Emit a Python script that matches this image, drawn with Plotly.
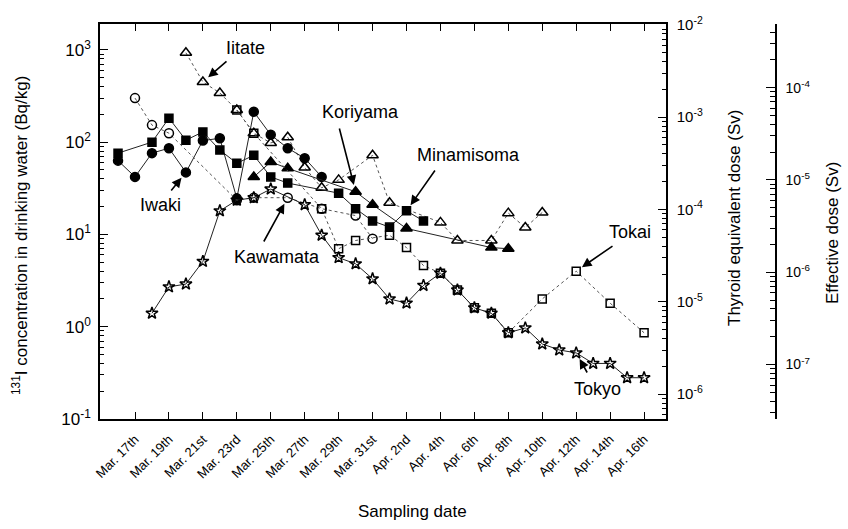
import math
import datetime as _dt
import plotly.graph_objects as go

# ---------------- data ----------------
iitate_dates = ["2011-03-20", "2011-03-21", "2011-03-22", "2011-03-23", "2011-03-24", "2011-03-25",
                "2011-03-26", "2011-03-27", "2011-03-28", "2011-03-29", "2011-03-31", "2011-04-01",
                "2011-04-04", "2011-04-05", "2011-04-07", "2011-04-08", "2011-04-09", "2011-04-10"]
iitate_vals = [930, 449, 341, 223, 125, 98, 113, 53, 32, 39, 72, 22, 13.5, 8.6, 8.6, 17, 11.9, 17.3]

iwaki_dates = ["2011-03-16", "2011-03-17", "2011-03-18", "2011-03-19", "2011-03-20", "2011-03-21",
               "2011-03-22", "2011-03-23", "2011-03-24", "2011-03-25", "2011-03-26", "2011-03-27",
               "2011-03-28"]
iwaki_vals = [63, 42, 76, 86, 47, 104, 110, 24.6, 213, 120, 86, 67, 42]

koriyama_dates = ["2011-03-24", "2011-03-25", "2011-03-26", "2011-03-30", "2011-03-31",
                  "2011-04-02", "2011-04-07", "2011-04-08"]
koriyama_vals = [42, 61, 52, 29, 21, 11.6, 7.2, 7.0]

minamisoma_dates = ["2011-03-16", "2011-03-18", "2011-03-19", "2011-03-20", "2011-03-21", "2011-03-22",
                    "2011-03-23", "2011-03-24", "2011-03-25", "2011-03-26", "2011-03-29", "2011-03-30",
                    "2011-03-31", "2011-04-01", "2011-04-02", "2011-04-03"]
minamisoma_vals = [76, 100, 182, 105, 129, 82, 59, 72, 42, 36, 28, 19, 14, 12, 18, 14]

kawamata_dates = ["2011-03-17", "2011-03-18", "2011-03-19", "2011-03-23", "2011-03-24", "2011-03-26",
                  "2011-03-28", "2011-03-30", "2011-03-31"]
kawamata_vals = [300, 153, 125, 23.5, 25, 25, 19, 16, 9]

tokai_dates = ["2011-03-23", "2011-03-24", "2011-03-28", "2011-03-29", "2011-03-30", "2011-04-01",
               "2011-04-02", "2011-04-03", "2011-04-04", "2011-04-05", "2011-04-06", "2011-04-07",
               "2011-04-08", "2011-04-10", "2011-04-12", "2011-04-14", "2011-04-16"]
tokai_vals = [223, 125, 19, 7.0, 8.6, 9.8, 7.2, 4.6, 3.8, 2.5, 1.6, 1.4, 0.86, 2.0, 4.0, 1.8, 0.86]

tokyo_dates = ["2011-03-18", "2011-03-19", "2011-03-20", "2011-03-21", "2011-03-22", "2011-03-23",
               "2011-03-24", "2011-03-25", "2011-03-27", "2011-03-28", "2011-03-29", "2011-03-30",
               "2011-03-31", "2011-04-01", "2011-04-02", "2011-04-03", "2011-04-04", "2011-04-05",
               "2011-04-06", "2011-04-07", "2011-04-08", "2011-04-09", "2011-04-10", "2011-04-11",
               "2011-04-12", "2011-04-13", "2011-04-14", "2011-04-15", "2011-04-16"]
tokyo_vals = [1.4, 2.7, 2.9, 5.1, 18, 23.5, 25, 31, 21, 9.8, 5.6, 4.8, 3.3, 2.0, 1.8, 2.8, 3.8, 2.5,
              1.6, 1.4, 0.86, 0.97, 0.65, 0.56, 0.52, 0.40, 0.40, 0.28, 0.28]

tick_dates = ["2011-03-17", "2011-03-19", "2011-03-21", "2011-03-23", "2011-03-25", "2011-03-27",
              "2011-03-29", "2011-03-31", "2011-04-02", "2011-04-04", "2011-04-06", "2011-04-08",
              "2011-04-10", "2011-04-12", "2011-04-14", "2011-04-16"]
tick_labels = ["Mar. 17th", "Mar. 19th", "Mar. 21st", "Mar. 23rd", "Mar. 25th", "Mar. 27th",
               "Mar. 29th", "Mar. 31st", "Apr. 2nd", "Apr. 4th", "Apr. 6th", "Apr. 8th",
               "Apr. 10th", "Apr. 12th", "Apr. 14th", "Apr. 16th"]

conc_exps = [-1, 0, 1, 2, 3]
thyroid_exps = [-6, -5, -4, -3, -2]
effective_exps = [-7, -6, -5, -4]

# ---------------- figure ----------------
W, H = 848, 529
ML, MR, MT, MB = 100, 40, 24, 110
PW = W - ML - MR
PH = H - MT - MB
FONT = "Liberation Sans, Arial, sans-serif"
X_START = "2011-03-14 22:30"
X_END = "2011-04-17 07:00"
PLOT_W = 566


def px(x, y):
    return (x - ML) / PW, (H - MB - y) / PH


fig = go.Figure()

series = [
    ("Iitate", iitate_dates, iitate_vals, "triangle-up-open", "dot", 10),
    ("Iwaki", iwaki_dates, iwaki_vals, "circle", "solid", 9),
    ("Koriyama", koriyama_dates, koriyama_vals, "triangle-up", "solid", 10),
    ("Minamisoma", minamisoma_dates, minamisoma_vals, "square", "solid", 8),
    ("Kawamata", kawamata_dates, kawamata_vals, "circle-open", "dot", 9),
    ("Tokai", tokai_dates, tokai_vals, "square-open", "dot", 8),
    ("Tokyo", tokyo_dates, tokyo_vals, "star-open", "solid", 9),
]
for name, d, v, sym, dash, size in series:
    fig.add_trace(go.Scatter(
        x=d, y=v, name=name, mode="lines+markers",
        line=dict(color="#222222" if dash == "solid" else "#555555", width=1, dash=dash),
        marker=dict(symbol=sym, size=size, color="black",
                    line=dict(color="black", width=1.5)),
        showlegend=False, cliponaxis=False,
    ))

# dummy traces so the secondary axes are drawn
fig.add_trace(go.Scatter(x=[None], y=[None], yaxis="y2", showlegend=False, hoverinfo="skip"))
fig.add_trace(go.Scatter(x=[None], y=[None], xaxis="x2", yaxis="y3", showlegend=False,
                         hoverinfo="skip"))


def minor_vals(lo, hi):
    out = []
    for e in range(lo, hi + 1):
        for m in range(2, 10):
            out.append(m * 10 ** e)
    return out


def sup_lbl(e):
    return "10<sup>%s</sup>" % (str(e) if e >= 0 else "-" + str(-e))


axis_common = dict(showline=True, linecolor="black", linewidth=1.5, ticks="inside",
                   tickcolor="black", tickwidth=1.2, showgrid=False, zeroline=False,
                   automargin=False)

main_range = [-1, 3.28]
thy_off = -5.27
eff_off = -6.59
eff_pos = (775 - ML) / PW

fig.update_layout(
    template="none",
    width=W, height=H, plot_bgcolor="rgba(0,0,0,0)", paper_bgcolor="white",
    margin=dict(l=ML, r=MR, t=MT, b=MB, pad=0),
    font=dict(family=FONT, color="black"),
    showlegend=False,
    xaxis=dict(**axis_common, domain=[0, PLOT_W / PW], type="date",
               range=[X_START, X_END],
               tickmode="array", tickvals=tick_dates, ticktext=tick_labels,
               tickangle=-45, ticklen=7, mirror="ticks", ticklabelstandoff=6,
               tickfont=dict(size=13, family=FONT)),
    xaxis2=dict(domain=[eff_pos - 0.03, eff_pos], range=[0, 1], anchor="y3",
                showline=False, showticklabels=False, ticks="", showgrid=False,
                zeroline=False, automargin=False),
    yaxis=dict(**axis_common, type="log", range=main_range,
               tickmode="array", tickvals=[10 ** e for e in conc_exps],
               ticktext=[sup_lbl(e) for e in conc_exps], ticklen=8, ticklabelstandoff=4,
               tickfont=dict(size=17, family=FONT),
               minor=dict(ticks="inside", ticklen=4, tickcolor="black",
                          tickmode="array", tickvals=minor_vals(-1, 3))),
    yaxis2=dict(**axis_common, type="log", overlaying="y", side="right", anchor="x",
                range=[main_range[0] + thy_off, main_range[1] + thy_off],
                tickmode="array", tickvals=[10 ** e for e in thyroid_exps],
                ticktext=[sup_lbl(e) for e in thyroid_exps], ticklen=8, ticklabelstandoff=6,
                tickfont=dict(size=15, family=FONT),
                minor=dict(ticks="inside", ticklen=4, tickcolor="black",
                           tickmode="array", tickvals=minor_vals(-7, -3))),
    yaxis3=dict(**axis_common, type="log", side="right", anchor="x2",
                range=[main_range[0] + eff_off, main_range[1] + eff_off],
                tickmode="array", tickvals=[10 ** e for e in effective_exps],
                ticktext=[sup_lbl(e) for e in effective_exps], ticklen=9,
                ticklabelstandoff=6,
                tickfont=dict(size=14, family=FONT),
                minor=dict(ticks="inside", ticklen=5, tickcolor="black",
                           tickmode="array", tickvals=minor_vals(-8, -4))),
)

annotations = []
# axis titles
for txt, (x, y), ang in [
    ("<sup>131</sup>I concentration in drinking water (Bq/kg)", (20, 236), -90),
    ("Thyroid equivalent dose (Sv)", (735, 218), -90),
    ("Effective dose (Sv)", (833, 233), -90),
    ("Sampling date", (412, 512), 0),
]:
    xp, yp = px(x, y)
    annotations.append(dict(text=txt, x=xp, y=yp, xref="paper", yref="paper", showarrow=False,
                            textangle=ang, font=dict(size=17, family=FONT),
                            xanchor="center", yanchor="middle"))

# series labels with arrows: (label, text centre px, series dates, series vals, index, tail px)
labels = [
    ("Iitate", (245, 48), iitate_dates, iitate_vals, 1, (228, 60)),
    ("Iwaki", (160, 205), iwaki_dates, iwaki_vals, 4, (170, 192)),
    ("Koriyama", (360, 112), koriyama_dates, koriyama_vals, 3, (339, 127)),
    ("Minamisoma", (468, 155), minamisoma_dates, minamisoma_vals, 14, (436, 169)),
    ("Kawamata", (277, 257), kawamata_dates, kawamata_vals, 5, (263, 243)),
    ("Tokai", (630, 232), tokai_dates, tokai_vals, 14, (614, 245)),
    ("Tokyo", (597, 389), tokyo_dates, tokyo_vals, 24, (588, 374)),
]
t0 = _dt.datetime.strptime(X_START, "%Y-%m-%d %H:%M")
t1 = _dt.datetime.strptime(X_END, "%Y-%m-%d %H:%M")
ppd = PLOT_W / ((t1 - t0).total_seconds() / 86400)


def data_px(d, v):
    dd = (_dt.datetime.strptime(d, "%Y-%m-%d") - t0).total_seconds() / 86400
    xpix = ML + dd * ppd
    ypix = MT + PH * (main_range[1] - math.log10(v)) / (main_range[1] - main_range[0])
    return xpix, ypix


for name, (tx, ty), d, v, i, (ax_, ay_) in labels:
    xp, yp = px(tx, ty)
    annotations.append(dict(text=name, x=xp, y=yp, xref="paper", yref="paper", showarrow=False,
                            font=dict(size=18, family=FONT), xanchor="center", yanchor="middle"))
    mx, my = data_px(d[i], v[i])
    annotations.append(dict(text="", x=d[i], y=math.log10(v[i]), xref="x", yref="y",
                            showarrow=True, ax=ax_ - mx, ay=ay_ - my, axref="pixel", ayref="pixel",
                            arrowhead=2, arrowsize=1.2, arrowwidth=1.6, arrowcolor="black",
                            standoff=7))

fig.update_layout(annotations=annotations)
fig.write_html("out.html", config={"displayModeBar": False},
               post_script="document.body.style.margin='0px';document.body.style.padding='0px';")
